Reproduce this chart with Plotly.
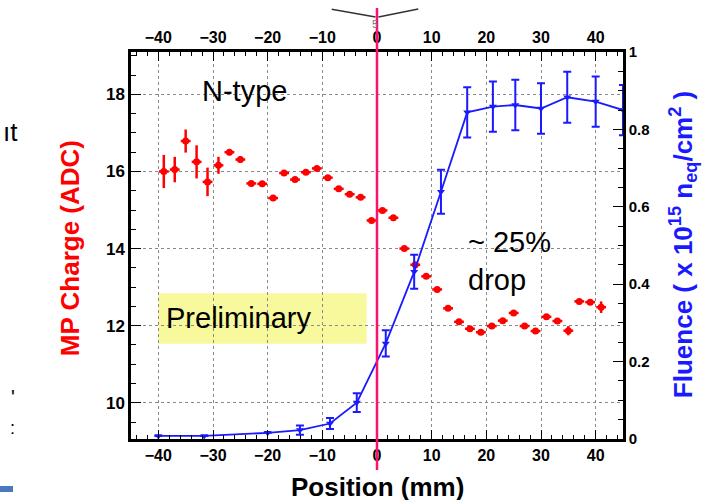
import plotly.graph_objects as go

# ---- data ----
charge_x = [-39, -37, -35, -33, -31, -29, -27, -25, -23, -21, -19, -17, -15, -13, -11, -9, -7, -5, -3, -1,
            1, 3, 5, 7, 9, 11, 13, 15, 17, 19, 21, 23, 25, 27, 29, 31, 33, 35, 37, 39, 41]
charge_y = [16.00, 16.05, 16.79, 16.25, 15.73, 16.16, 16.50, 16.31, 15.69, 15.68, 15.31, 15.96, 15.79, 15.98,
            16.08, 15.84, 15.55, 15.41, 15.33, 14.73, 14.99, 14.80, 14.00, 13.58, 13.28, 12.94, 12.45, 12.10,
            11.92, 11.83, 11.99, 12.13, 12.33, 11.99, 11.86, 12.23, 12.12, 11.87, 12.63, 12.61, 12.48]
charge_err = [0.43, 0.33, 0.30, 0.43, 0.37, 0.22, 0.08, 0.08, 0.06, 0.06, 0.06, 0.06, 0.06, 0.06,
              0.06, 0.06, 0.06, 0.06, 0.06, 0.06, 0.06, 0.06, 0.06, 0.06, 0.06, 0.06, 0.06, 0.06,
              0.06, 0.06, 0.06, 0.06, 0.06, 0.06, 0.06, 0.06, 0.06, 0.12, 0.06, 0.06, 0.15]
charge_xerr = 0.9

fluence_x = [-40, -31.6, -20, -14.1, -8.6, -3.7, 1.6, 6.8, 11.7, 16.5, 21.2, 25.3, 30.0, 34.8, 40.0, 45.0]
fluence_y = [0.008, 0.008, 0.016, 0.023, 0.04, 0.094, 0.247, 0.432, 0.639, 0.844, 0.859, 0.863, 0.854, 0.883, 0.872, 0.85]
fluence_err = [0.0, 0.0, 0.0, 0.012, 0.014, 0.024, 0.034, 0.044, 0.057, 0.065, 0.065, 0.065, 0.065, 0.066, 0.065, 0.065]

x_ticks = [-40, -30, -20, -10, 0, 10, 20, 30, 40]
left_ticks = [10, 12, 14, 16, 18]
right_ticks = [0, 0.2, 0.4, 0.6, 0.8, 1]

X_RANGE = [-45, 45]
Y_RANGE = [9.06, 19.1]
Y2_RANGE = [0, 1.0]

RED = "#ff0000"
BLUE = "#1a1aff"
FONT = "Liberation Sans, Arial, sans-serif"

fig = go.Figure()

fig.add_trace(go.Scatter(
    x=charge_x, y=charge_y, mode="markers",
    marker=dict(symbol="circle", size=7, color=RED),
    error_y=dict(type="data", array=charge_err, color=RED, thickness=2.5, width=0),
    error_x=dict(type="constant", value=charge_xerr, color=RED, thickness=2.5, width=0),
    xaxis="x", yaxis="y", showlegend=False, hoverinfo="x+y"))

fig.add_trace(go.Scatter(
    x=fluence_x, y=fluence_y, mode="lines+markers",
    line=dict(color=BLUE, width=1.8),
    marker=dict(symbol="triangle-down", size=7, color=BLUE),
    error_y=dict(type="data", array=fluence_err, color=BLUE, thickness=2, width=4),
    xaxis="x", yaxis="y2", showlegend=False, hoverinfo="x+y"))

# dummy trace so the top axis is drawn
fig.add_trace(go.Scatter(x=[None], y=[None], xaxis="x2", yaxis="y", showlegend=False, hoverinfo="skip"))

tickfont = dict(family=FONT, size=16, color="black", weight="bold")

fig.update_layout(
    width=707, height=500,
    margin=dict(l=131, r=84, t=52, b=61, autoexpand=False),
    paper_bgcolor="white", plot_bgcolor="white",
    xaxis=dict(range=X_RANGE, tickvals=x_ticks, ticks="inside", ticklen=9, tickwidth=1.2, tickcolor="black",
               showline=True, linecolor="black", linewidth=2.5,
               showgrid=True, gridcolor="#8a8a8a", griddash="dot", gridwidth=1,
               zeroline=False, tickfont=tickfont,
               minor=dict(dtick=2, ticks="inside", ticklen=4, tickcolor="black", showgrid=False)),
    xaxis2=dict(range=X_RANGE, overlaying="x", side="top", anchor="y", matches="x",
                tickvals=x_ticks, ticks="inside", ticklen=9, tickwidth=1.2, tickcolor="black",
                showline=True, linecolor="black", linewidth=2.5, showgrid=False, zeroline=False,
                tickfont=tickfont,
                minor=dict(dtick=2, ticks="inside", ticklen=4, tickcolor="black", showgrid=False)),
    yaxis=dict(range=Y_RANGE, tickvals=left_ticks, ticks="inside", ticklen=10, tickwidth=1.2, tickcolor="black",
               showline=True, linecolor="black", linewidth=2.5,
               showgrid=True, gridcolor="#8a8a8a", griddash="dot", gridwidth=1, zeroline=False,
               tickfont=dict(family=FONT, size=17, color="black", weight="bold"),
               minor=dict(dtick=0.5, tick0=10, ticks="inside", ticklen=5, tickcolor="black", showgrid=False)),
    yaxis2=dict(range=Y2_RANGE, overlaying="y", side="right", anchor="x",
                tickvals=right_ticks, ticktext=["0", "0.2", "0.4", "0.6", "0.8", "1"],
                ticks="inside", ticklen=10, tickwidth=1.2, tickcolor="black",
                showline=True, linecolor="black", linewidth=2.5, showgrid=False, zeroline=False,
                tickfont=dict(family=FONT, size=15, color="black", weight="bold"),
                minor=dict(dtick=0.05, ticks="inside", ticklen=5, tickcolor="black", showgrid=False)),
)

shapes = []
# Preliminary box
shapes.append(dict(type="rect", xref="x", yref="y", x0=-40, x1=-1.9, y0=11.53, y1=12.84,
                   fillcolor="#f8f89c", line=dict(width=0), layer="below"))
# vertical marker at x = 0
shapes.append(dict(type="line", xref="paper", yref="paper", x0=0.5, x1=0.5, y0=-0.08, y1=1.114,
                   line=dict(color="#ff1070", width=2.5)))
# slide artefacts at the top
shapes.append(dict(type="line", xref="paper", yref="paper", x0=0.4079, y0=1.1103, x1=0.4970, y1=1.0904,
                   line=dict(color="#333333", width=1.5)))
shapes.append(dict(type="line", xref="paper", yref="paper", x0=0.5030, y0=1.0904, x1=0.5839, y1=1.1111,
                   line=dict(color="#333333", width=1.5)))
# blue bar bottom-left
shapes.append(dict(type="rect", xref="paper", yref="paper", x0=-0.2663, x1=-0.2398, y0=-0.137, y1=-0.1214,
                   fillcolor="#4a78c0", line=dict(width=0)))
fig.update_layout(shapes=shapes)

ann = []
ann.append(dict(text="Preliminary", xref="x", yref="y", x=-38.9, y=12.19, xanchor="left", yanchor="middle",
                showarrow=False, font=dict(family=FONT, size=29, color="black")))
ann.append(dict(text="N-type", xref="x", yref="y", x=-32.3, y=18.1, xanchor="left", yanchor="middle",
                showarrow=False, font=dict(family=FONT, size=29, color="black")))
ann.append(dict(text="~ 25%<br>drop", xref="x", yref="y", x=16.2, y=13.68, xanchor="left", yanchor="middle",
                align="left", showarrow=False, font=dict(family=FONT, size=29, color="black")))
# axis titles
ann.append(dict(text="Position (mm)", xref="paper", yref="paper", x=0.500, y=-0.125, xanchor="center",
                yanchor="middle", showarrow=False,
                font=dict(family=FONT, size=26, color="black", weight="bold")))
ann.append(dict(text="MP Charge (ADC)", xref="paper", yref="paper", x=-0.124, y=0.493, xanchor="center",
                yanchor="middle", textangle=-90, showarrow=False,
                font=dict(family=FONT, size=26, color=RED, weight="bold")))
ann.append(dict(text="Fluence ( x 10<sup>15</sup> n<sub>eq</sub>/cm<sup>2</sup> )", xref="paper", yref="paper",
                x=1.122, y=0.501, xanchor="center", yanchor="middle", textangle=-90, showarrow=False,
                font=dict(family=FONT, size=26, color=BLUE, weight="bold")))
# slide artefacts
ann.append(dict(text="5", xref="paper", yref="paper", x=0.496, y=1.072, xanchor="center", yanchor="middle",
                showarrow=False, font=dict(family=FONT, size=11, color="#777777")))
ann.append(dict(text="ıt", xref="paper", yref="paper", x=-0.245, y=0.794, xanchor="center", yanchor="middle",
                showarrow=False, font=dict(family=FONT, size=26, color="black")))
ann.append(dict(text="'", xref="paper", yref="paper", x=-0.240, y=0.108, xanchor="center", yanchor="middle",
                showarrow=False, font=dict(family=FONT, size=20, color="black")))
ann.append(dict(text=":", xref="paper", yref="paper", x=-0.240, y=0.028, xanchor="center", yanchor="middle",
                showarrow=False, font=dict(family=FONT, size=18, color="black")))
fig.update_layout(annotations=ann)

fig.write_html("out.html")
